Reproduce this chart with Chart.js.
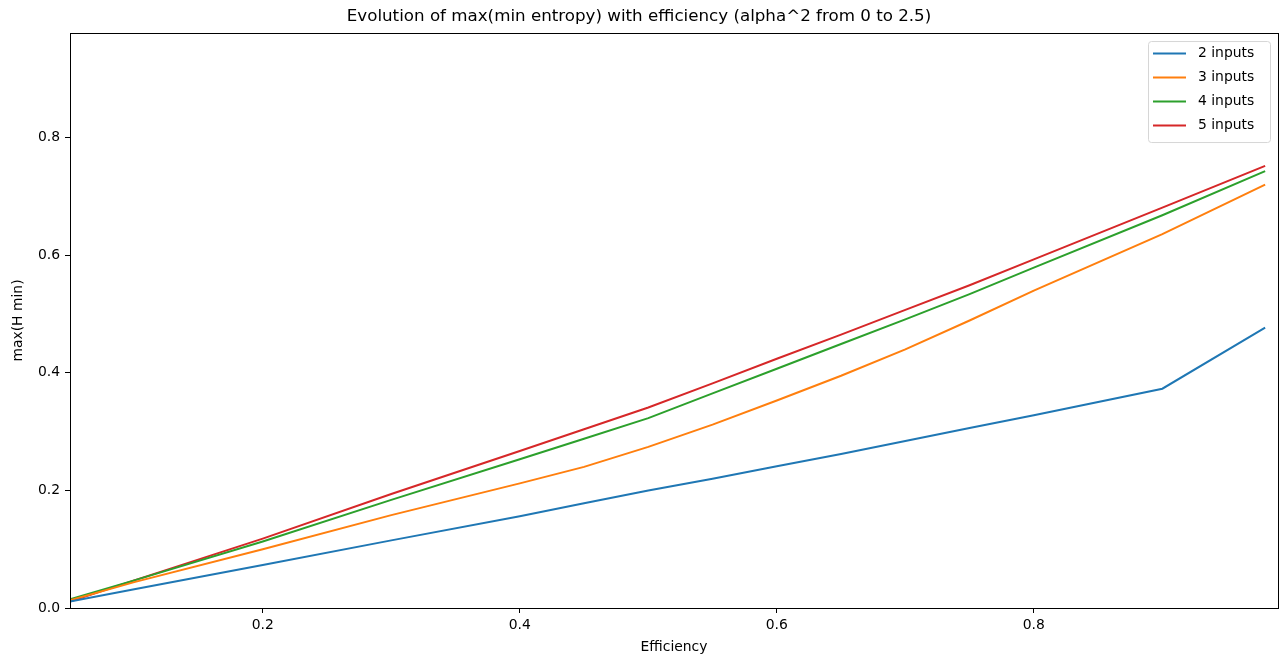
<!DOCTYPE html>
<html>
<head>
<meta charset="utf-8">
<script src="https://cdn.jsdelivr.net/npm/chart.js@4/dist/chart.umd.min.js"></script>
<style>
  html, body { margin: 0; padding: 0; background: #fff; }
  #wrap { width: 1284px; height: 662px; position: relative; }
</style>
</head>
<body>
<div id="wrap"><canvas id="plotCanvas"></canvas></div>
<script>
// values
const efficiency = [0.05, 0.1, 0.2, 0.3, 0.4, 0.45, 0.5, 0.55, 0.6, 0.65, 0.7, 0.75, 0.8, 0.9, 0.98];
const inputs2 = [0.011, 0.032, 0.073, 0.115, 0.156, 0.178, 0.200, 0.220, 0.241, 0.262, 0.284, 0.306, 0.328, 0.373, 0.477];
const inputs3 = [0.013, 0.044, 0.100, 0.158, 0.212, 0.240, 0.274, 0.312, 0.353, 0.395, 0.440, 0.489, 0.540, 0.636, 0.720];
const inputs4 = [0.015, 0.047, 0.113, 0.184, 0.253, 0.288, 0.323, 0.365, 0.407, 0.449, 0.491, 0.534, 0.579, 0.668, 0.743];
const inputs5 = [0.011, 0.047, 0.118, 0.194, 0.267, 0.304, 0.341, 0.382, 0.424, 0.465, 0.507, 0.549, 0.593, 0.681, 0.752];
const seriesLabels = ['2 inputs', '3 inputs', '4 inputs', '5 inputs'];
const seriesColors = ['#1f77b4', '#ff7f0e', '#2ca02c', '#d62728'];
const xTicks = [0.2, 0.4, 0.6, 0.8];
const yTicks = [0.0, 0.2, 0.4, 0.6, 0.8];

const FONT = 'DejaVu Sans';

const toPoints = (ys) => ys.map((y, i) => ({ x: efficiency[i], y: y }));

// frame round the plot area + matplotlib-like legend box
const framePlugin = {
    id: 'frame',
    afterDatasetsDraw(chart) {
        const { ctx, chartArea: a } = chart;
        ctx.save();
        ctx.strokeStyle = '#000';
        ctx.lineWidth = 1;
        ctx.strokeRect(Math.round(a.left) + 0.5, Math.round(a.top) + 0.5,
            Math.round(a.right - a.left), Math.round(a.bottom - a.top));

        // legend
        const boxW = 122, boxH = 101;
        const bx = a.right - 8 - boxW, by = a.top + 8;
        ctx.fillStyle = 'rgba(255,255,255,0.8)';
        ctx.strokeStyle = '#d6d6d6';
        ctx.beginPath();
        ctx.roundRect(bx + 0.5, by + 0.5, boxW, boxH, 3);
        ctx.fill();
        ctx.stroke();
        ctx.font = '13.9px ' + FONT;
        ctx.textBaseline = 'middle';
        chart.data.datasets.forEach((ds, i) => {
            const yy = by + 12.5 + i * 24;
            ctx.strokeStyle = ds.borderColor;
            ctx.lineWidth = 2;
            ctx.beginPath();
            ctx.moveTo(bx + 5, yy);
            ctx.lineTo(bx + 38, yy);
            ctx.stroke();
            ctx.fillStyle = '#000';
            ctx.fillText(ds.label, bx + 50, yy);
        });
        ctx.restore();
    }
};

const ctx = document.getElementById('plotCanvas').getContext('2d');
const myChart = new Chart(ctx, {
    type: 'line',
    data: {
        datasets: [inputs2, inputs3, inputs4, inputs5].map((ys, i) => ({
            label: seriesLabels[i],
            data: toPoints(ys),
            borderColor: seriesColors[i],
            backgroundColor: seriesColors[i],
            borderWidth: 2,
            pointRadius: 0,
            tension: 0,
            fill: false
        }))
    },
    options: {
        responsive: true,
        maintainAspectRatio: false,
        animation: false,
        layout: { padding: { left: 0, right: 6, top: 0, bottom: 0 } },
        plugins: {
            legend: { display: false },
            tooltip: { enabled: false },
            title: {
                display: true,
                text: 'Evolution of max(min entropy) with efficiency (alpha^2 from 0 to 2.5)',
                color: '#000',
                font: { family: FONT, size: 16.7, weight: 'normal' },
                padding: { top: 7, bottom: 6 }
            }
        },
        scales: {
            x: {
                type: 'linear',
                min: 0.05,
                max: 0.99,
                afterBuildTicks: (scale) => { scale.ticks = xTicks.map(v => ({ value: v })); },
                afterFit: (scale) => { scale.height = 54; },
                grid: { drawOnChartArea: false, tickLength: 5, tickColor: '#000', color: '#000' },
                border: { display: false },
                ticks: {
                    color: '#000',
                    padding: 4,
                    maxRotation: 0,
                    font: { family: FONT, size: 13.9 },
                    callback: (v) => v.toFixed(1)
                },
                title: {
                    display: true,
                    text: 'Efficiency',
                    color: '#000',
                    font: { family: FONT, size: 13.9 },
                    padding: { top: 4, bottom: 6 }
                }
            },
            y: {
                min: 0,
                max: 0.978,
                afterBuildTicks: (scale) => { scale.ticks = yTicks.map(v => ({ value: v })); },
                afterFit: (scale) => { scale.width = 70; },
                grid: { drawOnChartArea: false, tickLength: 5, tickColor: '#000', color: '#000' },
                border: { display: false },
                ticks: {
                    color: '#000',
                    padding: 5,
                    font: { family: FONT, size: 13.9 },
                    callback: (v) => v.toFixed(1)
                },
                title: {
                    display: true,
                    text: 'max(H min)',
                    color: '#000',
                    font: { family: FONT, size: 13.9 },
                    padding: { top: 10, bottom: 4 }
                }
            }
        }
    },
    plugins: [framePlugin]
});
</script>
</body>
</html>
